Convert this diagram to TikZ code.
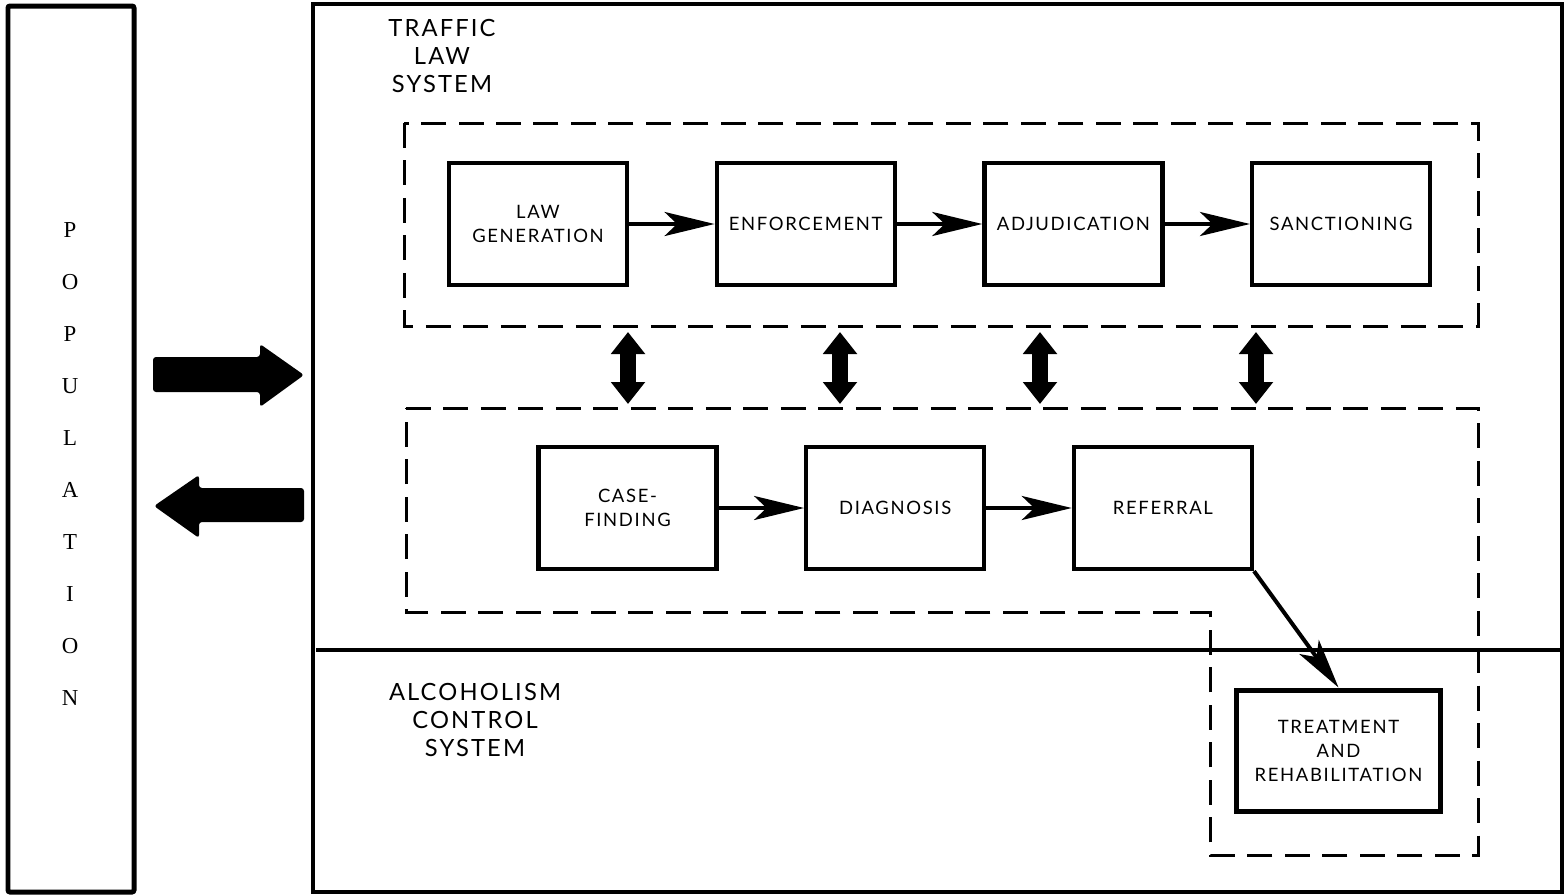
\documentclass[tikz,border=0pt]{standalone}
\usepackage{fontspec}
\setmainfont{Lato}
\newfontfamily\popfont{Liberation Serif}
\usetikzlibrary{arrows.meta,positioning}
\newcommand{\stagefont}{\fontsize{10.5}{13.5}\selectfont\addfontfeature{LetterSpace=9}}
\newcommand{\headfont}{\fontsize{13.5}{15.9}\selectfont\addfontfeature{LetterSpace=9}}
\tikzset{
  stage/.style={draw,line width=0.085cm,minimum width=3.56cm,minimum height=2.44cm,
    align=center,font=\stagefont,inner sep=1pt},
  flow/.style={-{Stealth[length=1cm,width=0.48cm,inset=0.25cm]},line width=0.08cm},
  zone/.style={dash pattern=on 0.5cm off 0.25cm,line width=0.06cm},
  duplex/.style={{Triangle[length=0.44cm,width=0.66cm]}-{Triangle[length=0.44cm,width=0.66cm]},
    line width=0.32cm},
  bigarrow/.style={fill=black,rounded corners=0.06cm},
  heading/.style={align=center,font=\headfont},
}

\begin{document}
\begin{tikzpicture}[x=0.02cm,y=-0.02cm,node distance=1.71cm]
  \useasboundingbox (0,0) rectangle (1566,896);

  % population column
  \draw[line width=0.1cm,rounded corners=0.04cm] (8,6) rectangle (134,892);
  \foreach \ch [count=\i] in {P,O,P,U,L,A,T,I,O,N}
    \node[font=\popfont\fontsize{13}{13}\selectfont] (pop\i) at (70,178+52*\i) {\ch};

  % the two systems
  \draw[line width=0.08cm] (313,4) rectangle (1562,892);
  \draw[line width=0.07cm] (316,650) -- (1562,650);
  \node[heading] (tls) at (442,56) {TRAFFIC\\LAW\\SYSTEM};
  \node[heading] (acs) at (475,720) {ALCOHOLISM\\CONTROL\\SYSTEM};

  % dashed zones
  \draw[zone] (404,123) rectangle (1478,326);
  \draw[zone] (406,408) -- (1478,408) -- (1478,855) -- (1210,855)
    -- (1210,612) -- (406,612) -- cycle;

  % traffic law chain
  \node[stage] (lawgen) at (538,224) {LAW\\GENERATION};
  \node[stage,right=of lawgen] (enforce) {ENFORCEMENT};
  \node[stage,right=of enforce] (adjud) {ADJUDICATION};
  \node[stage,right=of adjud] (sanction) {SANCTIONING};

  % alcoholism chain
  \node[stage] (casefind) at (627.5,508) {CASE-\\FINDING};
  \node[stage,right=of casefind] (diagnosis) {DIAGNOSIS};
  \node[stage,right=of diagnosis] (referral) {REFERRAL};
  \node[stage,line width=0.1cm,minimum width=4.1cm] (treatment) at (1338.5,751)
    {TREATMENT\\AND\\REHABILITATION};

  \draw[flow] (lawgen) -- (enforce);
  \draw[flow] (enforce) -- (adjud);
  \draw[flow] (adjud) -- (sanction);
  \draw[flow] (casefind) -- (diagnosis);
  \draw[flow] (diagnosis) -- (referral);
  \draw[flow] (referral.south east) -- (treatment.north);

  % exchange between the zones
  \foreach \x [count=\i] in {628,840,1040,1256} {
    \coordinate (up\i) at (\x,332);
    \coordinate (down\i) at (\x,404);
    \draw[duplex] (up\i) -- (down\i);
  }

  % population in and out
  \fill[bigarrow] (153,357) -- (260,357) -- (260,344) -- (304,375)
    -- (260,407) -- (260,392) -- (153,392) -- cycle;
  \fill[bigarrow] (304,488) -- (199,488) -- (199,475) -- (154,506)
    -- (199,538) -- (199,522) -- (304,522) -- cycle;
\end{tikzpicture}
\end{document}
